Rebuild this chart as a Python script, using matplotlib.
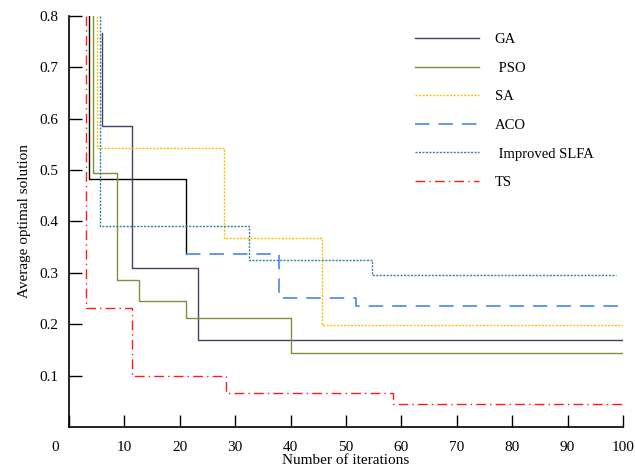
import matplotlib.pyplot as plt
import matplotlib.transforms as mtransforms

plt.rcParams['font.family'] = ['Liberation Serif', 'DejaVu Serif']

# step curves: x where value changes, y value from there on
ga_x = [6.0, 6.0, 11.4, 23.3, 100]
ga_y = [0.767, 0.585, 0.31, 0.17, 0.17]

pso_x = [4.3, 4.3, 8.6, 12.7, 21.1, 40.0, 100]
pso_y = [0.8, 0.495, 0.287, 0.245, 0.212, 0.144, 0.144]

sa_x = [5.1, 5.1, 28.0, 45.6, 100]
sa_y = [0.8, 0.544, 0.368, 0.199, 0.199]

aco_head_x = [3.6, 3.6, 21.1]
aco_head_y = [0.8, 0.483, 0.337]
aco_x = [21.1, 37.9, 51.8, 100]
aco_y = [0.337, 0.252, 0.235, 0.235]

slfa_x = [5.6, 5.6, 32.5, 54.7, 98.8]
slfa_y = [0.8, 0.391, 0.326, 0.295, 0.295]

ts_x = [3.0, 3.0, 11.4, 28.3, 58.5, 99.8]
ts_y = [0.8, 0.232, 0.099, 0.067, 0.044, 0.044]

fig = plt.figure(figsize=(6.35, 4.7), dpi=100)
ax = fig.add_axes([0.1087, 0.0915, 0.8724, 0.8745])

ax.step(aco_head_x, aco_head_y, where='post', color='black', lw=1.0)
ax.step(ga_x, ga_y, where='post', color='#4B3C6E', lw=1.0, label='GA')
ax.step(pso_x, pso_y, where='post', color='#77933C', lw=1.0, label=' PSO')
ax.step(sa_x, sa_y, where='post', color='#FFC000', lw=1.0,
        ls=(0, (1.5, 1.0)), label='SA')
ax.step(aco_x, aco_y, where='post', color='#5B8DEF', lw=1.3,
        ls=(0, (8, 5)), label='ACO')
ax.step(slfa_x, slfa_y, where='post', color='#31849B', lw=1.0,
        ls=(0, (1.5, 1.0)), label=' Improved SLFA')
ax.step(ts_x, ts_y, where='post', color='#FF1A1A', lw=1.0,
        ls=(0, (7, 3, 1, 3)), label='TS')

ax.set_xlim(0, 100)
ax.set_ylim(0, 0.8)
ax.set_xticks(range(0, 101, 10))
ax.set_yticks([0.1, 0.2, 0.3, 0.4, 0.5, 0.6, 0.7, 0.8])
ax.set_yticklabels(['0.1', '0.2', '0.3', '0.4', '0.5', '0.6', '0.7', '0.8'])
ax.tick_params(direction='in', length=9, width=1.0, labelsize=11)
ax.tick_params(axis='x', pad=10)
ax.tick_params(axis='y', pad=8)
ax.spines['top'].set_visible(False)
ax.spines['right'].set_visible(False)
ax.spines['left'].set_linewidth(1.2)
ax.spines['bottom'].set_linewidth(1.2)

# the "0" label sits left of the axis in the original
lbl0 = ax.get_xticklabels()[0]
lbl0.set_transform(lbl0.get_transform() +
                   mtransforms.ScaledTranslation(-0.14, 0, fig.dpi_scale_trans))

ax.set_xlabel('Number of iterations', fontsize=11, labelpad=0)
ax.set_ylabel('Average optimal solution', fontsize=11, labelpad=6)

ax.legend(loc='upper left', bbox_to_anchor=(0.6, 0.99), frameon=False,
          fontsize=10.5, handlelength=4.4, handletextpad=1.1,
          labelspacing=1.05)

fig.savefig('out.png', dpi=100)
